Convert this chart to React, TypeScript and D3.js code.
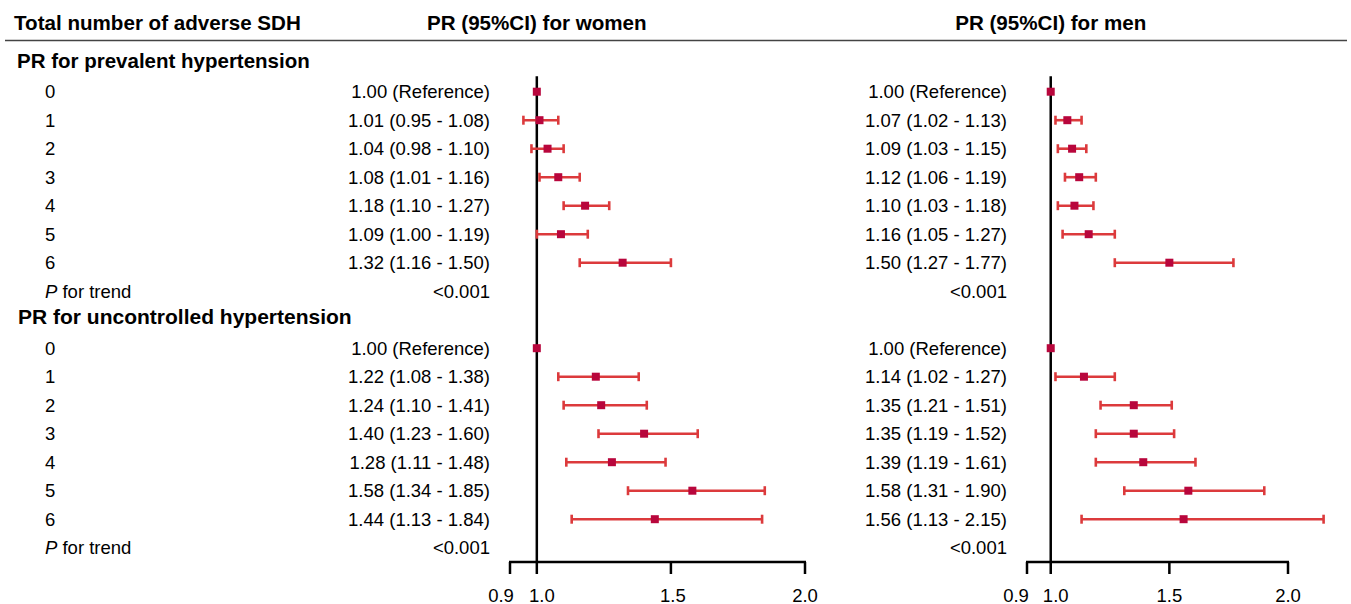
import React from 'react';
import * as d3 from 'd3';

// categories: total number of adverse SDH
const categories = ['0', '1', '2', '3', '4', '5', '6'];

// [PR, lower 95%CI, upper 95%CI]
const womenPrevalent: [number, number, number][] = [
  [1.00, 1.00, 1.00], [1.01, 0.95, 1.08], [1.04, 0.98, 1.10], [1.08, 1.01, 1.16],
  [1.18, 1.10, 1.27], [1.09, 1.00, 1.19], [1.32, 1.16, 1.50],
];
const menPrevalent: [number, number, number][] = [
  [1.00, 1.00, 1.00], [1.07, 1.02, 1.13], [1.09, 1.03, 1.15], [1.12, 1.06, 1.19],
  [1.10, 1.03, 1.18], [1.16, 1.05, 1.27], [1.50, 1.27, 1.77],
];
const womenUncontrolled: [number, number, number][] = [
  [1.00, 1.00, 1.00], [1.22, 1.08, 1.38], [1.24, 1.10, 1.41], [1.40, 1.23, 1.60],
  [1.28, 1.11, 1.48], [1.58, 1.34, 1.85], [1.44, 1.13, 1.84],
];
const menUncontrolled: [number, number, number][] = [
  [1.00, 1.00, 1.00], [1.14, 1.02, 1.27], [1.35, 1.21, 1.51], [1.35, 1.19, 1.52],
  [1.39, 1.19, 1.61], [1.58, 1.31, 1.90], [1.56, 1.13, 2.15],
];

const sectionTitles = ['PR for prevalent hypertension', 'PR for uncontrolled hypertension'];
const trendP = ['<0.001', '<0.001'];
const axisTicks = [0.9, 1.0, 1.5, 2.0];

const W = 1351;
const H = 604;
const FONT = '"Liberation Sans", Arial, Helvetica, sans-serif';
const CI_COLOR = '#dc3a3c';
const PT_COLOR = '#b8063c';

const fmt = d3.format('.2f');
const label = (d: [number, number, number], i: number) =>
  i === 0 ? `${fmt(d[0])} (Reference)` : `${fmt(d[0])} (${fmt(d[1])} - ${fmt(d[2])})`;

const Panel = ({ x, y, women, men, offset }: any) => {
  const cats = categories.map((c, i) => ({ c, i, k: offset + i }));
  const cols = [
    { data: women, sx: x.women, textX: 490 },
    { data: men, sx: x.men, textX: 1007 },
  ];
  return (
    <g>
      {cols.map((col, ci) => (
        <g key={ci}>
          {cats.map(({ i, k }) => {
            const d = col.data[i];
            const cy = y(k);
            return (
              <g key={i}>
                <text x={col.textX} y={cy + 6.5} textAnchor="end" fontSize={18.5}>
                  {label(d, i)}
                </text>
                {i > 0 && (
                  <g stroke={CI_COLOR} strokeWidth={2.6}>
                    <line x1={col.sx(d[1])} x2={col.sx(d[2])} y1={cy} y2={cy} />
                    <line x1={col.sx(d[1])} x2={col.sx(d[1])} y1={cy - 4.5} y2={cy + 4.5} />
                    <line x1={col.sx(d[2])} x2={col.sx(d[2])} y1={cy - 4.5} y2={cy + 4.5} />
                  </g>
                )}
                <rect x={col.sx(d[0]) - 4} y={cy - 4} width={8} height={8} fill={PT_COLOR} />
              </g>
            );
          })}
        </g>
      ))}
    </g>
  );
};

export default function App() {
  const xWomen = d3.scaleLinear().domain([0.9, 2.0]).range([510, 805]);
  const xMen = d3.scaleLinear().domain([0.9, 2.0]).range([1027, 1288]);
  // row index -> vertical centre
  const y = d3.scaleLinear().domain([0, 16]).range([91.7, 547.7]);
  const axisY = 562;

  const sections = [
    { title: sectionTitles[0], women: womenPrevalent, men: menPrevalent, offset: 0, p: trendP[0] },
    { title: sectionTitles[1], women: womenUncontrolled, men: menUncontrolled, offset: 9, p: trendP[1] },
  ];

  const axes = [
    { sx: xWomen, shift: [-9, 5, 2, 0] },
    { sx: xMen, shift: [-11, 5, 0, 0] },
  ];

  return (
    <svg
      width={W}
      height={H}
      style={{ position: 'absolute', left: 0, top: 0, background: '#fff' }}
      fontFamily={FONT}
      fill="#000"
    >
      {/* headers */}
      <text x={14} y={30} fontSize={20.6} fontWeight="bold">Total number of adverse SDH</text>
      <text x={xWomen(1.0)} y={30} fontSize={20.6} fontWeight="bold" textAnchor="middle">PR (95%CI) for women</text>
      <text x={xMen(1.0)} y={30} fontSize={20.6} fontWeight="bold" textAnchor="middle">PR (95%CI) for men</text>
      <line x1={5} x2={1347} y1={40.5} y2={40.5} stroke="#444" strokeWidth={1.5} />

      {sections.map((s, si) => (
        <g key={si}>
          <text x={si === 0 ? 17 : 18} y={y(s.offset - 1) + 4.5} fontSize={si === 0 ? 20.5 : 21} fontWeight="bold">{s.title}</text>
          {categories.map((c, i) => (
            <text key={c} x={45} y={y(s.offset + i) + 6.5} fontSize={18.5}>{c}</text>
          ))}
          <text x={45} y={y(s.offset + 7) + 6.5} fontSize={18.5}>
            <tspan fontStyle="italic">P</tspan> for trend
          </text>
          <text x={490} y={y(s.offset + 7) + 6.5} fontSize={18.5} textAnchor="end">{s.p}</text>
          <text x={1007} y={y(s.offset + 7) + 6.5} fontSize={18.5} textAnchor="end">{s.p}</text>
        </g>
      ))}

      {/* reference lines at PR = 1 */}
      {axes.map((a, ai) => (
        <line key={ai} x1={a.sx(1.0)} x2={a.sx(1.0)} y1={y(0) - 15.5} y2={axisY} stroke="#000" strokeWidth={2.5} />
      ))}

      {sections.map((s, si) => (
        <Panel key={si} x={{ women: xWomen, men: xMen }} y={y} women={s.women} men={s.men} offset={s.offset} />
      ))}

      {/* x axes */}
      {axes.map((a, ai) => (
        <g key={ai}>
          <line x1={a.sx(0.9) - 1} x2={a.sx(2.0) + 1} y1={axisY} y2={axisY} stroke="#000" strokeWidth={2.5} />
          {axisTicks.map((t, ti) => (
            <g key={t}>
              <line x1={a.sx(t)} x2={a.sx(t)} y1={axisY} y2={axisY + 12} stroke="#000" strokeWidth={2.5} />
              <text x={a.sx(t) + a.shift[ti]} y={601.5} fontSize={18.5} textAnchor="middle">
                {d3.format('.1f')(t)}
              </text>
            </g>
          ))}
        </g>
      ))}
    </svg>
  );
}
